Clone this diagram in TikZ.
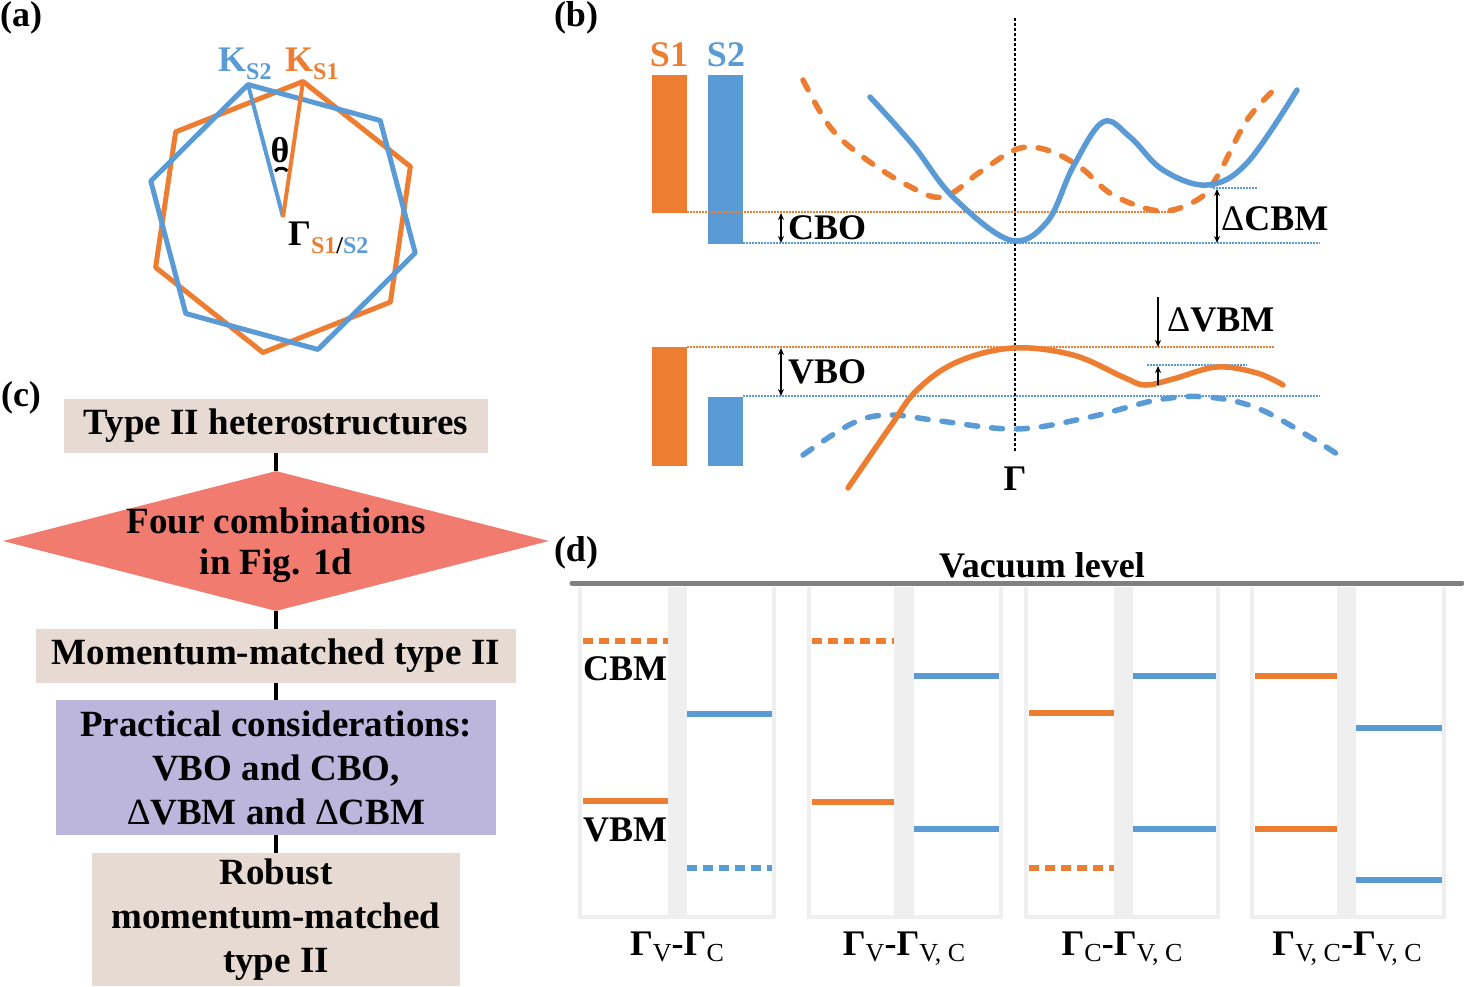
\documentclass[tikz,border=0pt]{standalone}
\usepackage{fontspec}
\setmainfont{Liberation Serif}
\usetikzlibrary{shapes.geometric,arrows.meta}

\definecolor{orng}{HTML}{ED7D31}
\definecolor{blu}{HTML}{5B9BD5}
\definecolor{beige}{HTML}{E6DAD2}
\definecolor{salmon}{HTML}{F07B6E}
\definecolor{lilac}{HTML}{BCB6DC}
\definecolor{frame}{HTML}{EFEFEF}
\definecolor{vac}{HTML}{808080}

\newcommand{\ksub}[1]{\raisebox{-8.5pt}{\fontsize{24}{24}\selectfont #1}}
\newcommand{\gsub}[1]{\raisebox{-6pt}{\fontsize{26}{26}\selectfont\mdseries #1}}
\newcommand{\dlt}{{\mdseries Δ}}

\begin{document}
\begin{tikzpicture}[x=1pt,y=-1pt,>={Stealth[length=7pt,width=6pt]},
  font=\fontsize{36}{44}\selectfont\bfseries,
  tag/.style={inner sep=0pt},
  hex/.style={line width=5pt,line join=round},
  guide/.style={line width=1.5pt,dash pattern=on 1.5pt off 1.5pt},
  band/.style={line width=5.5pt,line cap=round},
  dashband/.style={band,dash pattern=on 11pt off 14pt},
  level/.style={line width=6pt},
  dashlevel/.style={level,dash pattern=on 10pt off 6pt},
  frm/.style={frame,line width=4pt},
  box/.style={fill=beige,minimum height=54pt,inner sep=0pt,font=\fontsize{37}{44}\selectfont\bfseries},
  conn/.style={line width=4pt}]
\useasboundingbox (0,0) rectangle (1464,986);

% (a)
\node[tag] (lab_a) at (21,18) {(a)};
\coordinate (G) at (283,217);
\draw[hex,orng,shift={(283,217)}] (-81.6:137) -- (-21.6:137) -- (38.4:137) -- (98.4:137) -- (158.4:137) -- (218.4:137) -- cycle;
\draw[hex,blu,shift={(283,217)}] (-104.8:137) -- (-44.8:137) -- (15.2:137) -- (75.2:137) -- (135.2:137) -- (195.2:137) -- cycle;
\path (G) ++(-104.8:137) coordinate (K_2);
\path (G) ++(-81.6:137) coordinate (K_1);
\draw[blu,line width=4pt] (G) -- (K_2);
\draw[orng,line width=4pt] (G) -- (K_1);
\draw[line width=3pt] (275,171) arc[start angle=-140,end angle=-40,radius=8];
\node[tag] (theta) at (280,150) {θ};
\node[tag,anchor=base west,blu] (k_s2) at (218,71) {K\ksub{S2}};
\node[tag,anchor=base west,orng] (k_s1) at (285,71) {K\ksub{S1}};
\node[tag,anchor=base west] (gam) at (288,245) {Γ\ksub{\textcolor{orng}{S1}/\textcolor{blu}{S2}}};

% (b)
\node[tag] (lab_b) at (576,18) {(b)};
\node[tag,anchor=base,orng] (s_1) at (669,66) {S1};
\node[tag,anchor=base,blu] (s_2) at (726,66) {S2};
\fill[orng] (652,75) rectangle (687,213);
\fill[blu] (708,75) rectangle (743,244);
\fill[orng] (652,347) rectangle (687,466);
\fill[blu] (708,397) rectangle (743,466);
\draw[guide,orng] (687,212) -- (1176,212);
\draw[guide,blu] (743,243) -- (1320,243);
\draw[guide,blu] (1213,188) -- (1257,188);
\draw[guide,orng] (687,347) -- (1275,347);
\draw[guide,blu] (743,396) -- (1320,396);
\draw[guide,blu] (1147,365) -- (1247,365);
\draw[line width=1.2pt,dash pattern=on 3pt off 2pt] (1015,18) -- (1015,452);
\draw[dashband,orng] plot[smooth,tension=0.6] coordinates {(803,80) (830,127) (863,157) (907,185) (943,197) (980,172) (1017,149) (1047,150) (1080,167) (1113,195) (1160,211) (1197,200) (1217,177) (1247,120) (1278,86)};
\draw[band,blu] plot[smooth,tension=0.6] coordinates {(870,97) (913,145) (953,197) (1010,240) (1047,222) (1073,167) (1103,122) (1130,137) (1163,170) (1207,185) (1247,163) (1297,90)};
\draw[dashband,blu] plot[smooth,tension=0.6] coordinates {(803,455) (853,423) (890,415) (940,421) (1017,429) (1090,417) (1157,400) (1207,397) (1257,408) (1310,437) (1343,458)};
\draw[band,orng] plot[smooth,tension=0.6] coordinates {(848,488) (890,427) (917,390) (957,362) (1013,348) (1073,355) (1123,377) (1145,385) (1173,379) (1217,367) (1257,373) (1283,385)};
\coordinate (cbo_t) at (781,213);
\coordinate (cbo_b) at (781,243);
\coordinate (vbo_t) at (781,348);
\coordinate (vbo_b) at (781,396);
\coordinate (dcbm_t) at (1217,189);
\coordinate (dcbm_b) at (1217,243);
\coordinate (dvbm_s) at (1158,297);
\coordinate (dvbm_e) at (1158,347);
\coordinate (dvbm_u) at (1158,385);
\coordinate (dvbm_v) at (1158,366);
\path[<->,line width=1.3pt]
(cbo_t) edge (cbo_b)
(vbo_t) edge (vbo_b)
(dcbm_t) edge (dcbm_b);
\path[->,line width=1.3pt]
(dvbm_s) edge (dvbm_e)
(dvbm_u) edge (dvbm_v);
\node[tag,anchor=west] (cbo) at (788,228) {CBO};
\node[tag,anchor=west] (vbo) at (788,372) {VBO};
\node[tag,anchor=west] (dcbm) at (1221,219) {\dlt CBM};
\node[tag,anchor=west] (dvbm) at (1167,320) {\dlt VBM};
\node[tag,anchor=base] (gam_b) at (1015,490) {Γ};

% (c)
\node[tag] (lab_c) at (21,398) {(c)};
\node[box,minimum width=424pt] (box_1) at (276,425.5) {Type II heterostructures};
\node[shape=diamond,fill=salmon,minimum width=546pt,minimum height=140pt,inner sep=0pt] (dia) at (276,541) {};
\node[tag,align=center,font=\fontsize{37}{41}\selectfont\bfseries] (dia_txt) at (276,545) {Four combinations\\in Fig. 1d};
\node[box,minimum width=480pt] (box_2) at (276,656) {Momentum-matched type II};
\node[box,fill=lilac,minimum width=440pt,minimum height=135pt,align=center] (box_3) at (276,767.5) {Practical considerations:\\VBO and CBO,\\\dlt VBM and \dlt CBM};
\node[box,minimum width=368pt,minimum height=133pt,align=center] (box_4) at (276,919.5) {Robust\\momentum-matched\\type II};
\path[conn]
(box_1) edge (dia)
(dia) edge (box_2)
(box_2) edge (box_3)
(box_3) edge (box_4);

% (d)
\node[tag] (lab_d) at (576,553) {(d)};
\node[tag,anchor=base] (vac_txt) at (1042,577) {Vacuum level};
\draw[vac,line width=5pt,line cap=round] (572,583) -- (1462,583);
\draw[frm] (580,587) |- (774,917) -- (774,587);
\fill[frame] (668,587) rectangle (687,917);
\draw[frm] (809,587) |- (1001,917) -- (1001,587);
\fill[frame] (894,587) rectangle (914,917);
\draw[frm] (1026,587) |- (1218,917) -- (1218,587);
\fill[frame] (1114,587) rectangle (1133,917);
\draw[frm] (1252,587) |- (1444,917) -- (1444,587);
\fill[frame] (1337,587) rectangle (1356,917);
% levels
\draw[dashlevel,orng] (583,641) -- (668,641);
\draw[level,orng] (583,801) -- (668,801);
\draw[level,blu] (687,714) -- (772,714);
\draw[dashlevel,blu] (687,868) -- (772,868);
\draw[dashlevel,orng] (812,641) -- (894,641);
\draw[level,orng] (812,802) -- (894,802);
\draw[level,blu] (914,676) -- (999,676);
\draw[level,blu] (914,829) -- (999,829);
\draw[level,orng] (1029,713) -- (1114,713);
\draw[dashlevel,orng] (1029,868) -- (1114,868);
\draw[level,blu] (1133,676) -- (1216,676);
\draw[level,blu] (1133,829) -- (1216,829);
\draw[level,orng] (1255,676) -- (1337,676);
\draw[level,orng] (1255,829) -- (1337,829);
\draw[level,blu] (1356,728) -- (1442,728);
\draw[level,blu] (1356,880) -- (1442,880);
\node[tag] (cbm) at (625,669) {CBM};
\node[tag] (vbm) at (625,830) {VBM};
\node[tag,anchor=base] (comb_1) at (677,955) {Γ\gsub{V}-Γ\gsub{C}};
\node[tag,anchor=base] (comb_2) at (904,955) {Γ\gsub{V}-Γ\gsub{V, C}};
\node[tag,anchor=base] (comb_3) at (1122,955) {Γ\gsub{C}-Γ\gsub{V, C}};
\node[tag,anchor=base] (comb_4) at (1347,955) {Γ\gsub{V, C}-Γ\gsub{V, C}};
\end{tikzpicture}
\end{document}
